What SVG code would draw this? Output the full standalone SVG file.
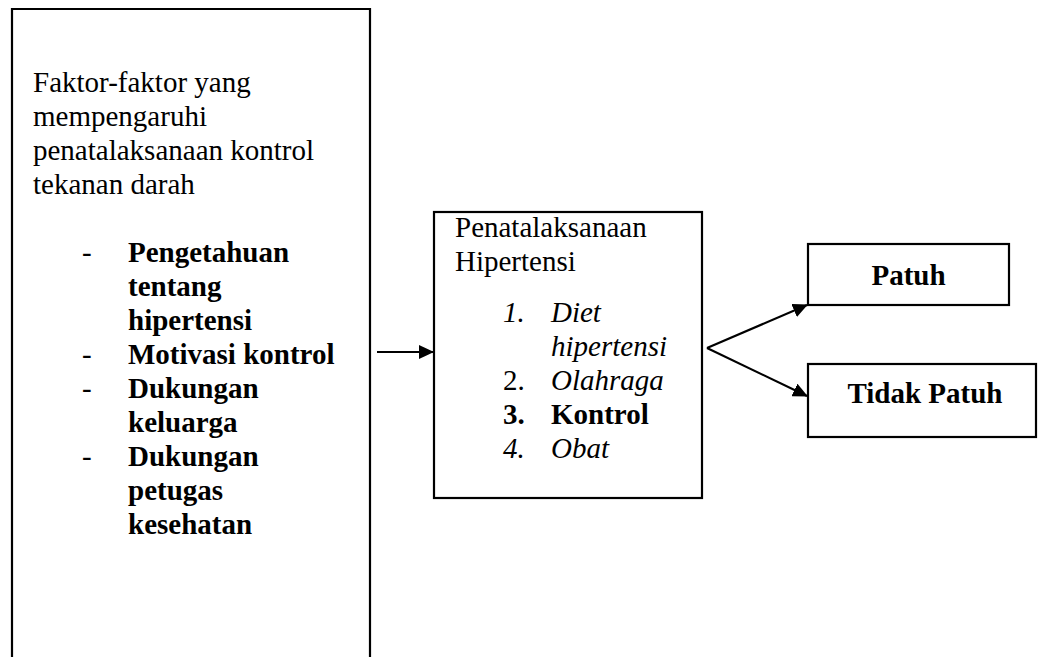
<svg xmlns="http://www.w3.org/2000/svg" width="1039" height="657" viewBox="0 0 1039 657">
<defs>
<style>
.box{fill:#fff;stroke:#000;stroke-width:2.2}
.t{font-family:'Liberation Serif',Tinos,'Times New Roman','DejaVu Serif',serif;font-size:29px;fill:#000}
.b{font-weight:bold}
.i{font-style:italic}
.ln{stroke:#000;stroke-width:2.2;fill:none}
</style>
<marker id="ah" markerWidth="15" markerHeight="14" refX="14" refY="7" orient="auto" markerUnits="userSpaceOnUse" viewBox="0 0 15 14">
<path d="M0,0 L15,7 L0,14 Z" fill="#000"/>
</marker>
</defs>
<rect width="1039" height="657" fill="#fff"/>
<g id="faktor" font-family="Liberation Serif, serif">
<path class="box" d="M12,670 L12,9 L370,9 L370,670"/>
<text class="t" x="33" y="92">Faktor-faktor yang</text>
<text class="t" x="33" y="126">mempengaruhi</text>
<text class="t" x="33" y="160">penatalaksanaan kontrol</text>
<text class="t" x="33" y="194">tekanan darah</text>
<text class="t" x="82" y="262">-</text>
<text class="t b" x="128" y="262">Pengetahuan</text>
<text class="t b" x="128" y="296">tentang</text>
<text class="t b" x="128" y="330">hipertensi</text>
<text class="t" x="82" y="364">-</text>
<text class="t b" x="128" y="364">Motivasi kontrol</text>
<text class="t" x="82" y="398">-</text>
<text class="t b" x="128" y="398">Dukungan</text>
<text class="t b" x="128" y="432">keluarga</text>
<text class="t" x="82" y="466">-</text>
<text class="t b" x="128" y="466">Dukungan</text>
<text class="t b" x="128" y="500">petugas</text>
<text class="t b" x="128" y="534">kesehatan</text>
</g>
<g id="penatalaksanaan">
<rect class="box" x="434" y="212" width="268" height="286"/>
<text class="t" x="455" y="237">Penatalaksanaan</text>
<text class="t" x="455" y="271">Hipertensi</text>
<text class="t i" x="503" y="322">1.</text>
<text class="t i" x="551" y="322">Diet</text>
<text class="t i" x="551" y="356">hipertensi</text>
<text class="t" x="503" y="390">2.</text>
<text class="t i" x="551" y="390">Olahraga</text>
<text class="t b" x="503" y="424">3.</text>
<text class="t b" x="551" y="424">Kontrol</text>
<text class="t i" x="503" y="458">4.</text>
<text class="t i" x="551" y="458">Obat</text>
</g>
<g id="patuh">
<rect class="box" x="808" y="244" width="201" height="61"/>
<text class="t b" x="908.5" y="285" text-anchor="middle">Patuh</text>
</g>
<g id="tidak-patuh">
<rect class="box" x="808" y="364" width="228" height="73"/>
<text class="t b" x="925" y="403" text-anchor="middle">Tidak Patuh</text>
</g>
<g id="connectors">
<line class="ln" x1="377" y1="352" x2="433" y2="352" marker-end="url(#ah)"/>
<line class="ln" x1="707" y1="348" x2="807" y2="305" marker-end="url(#ah)"/>
<line class="ln" x1="707" y1="348" x2="807" y2="396" marker-end="url(#ah)"/>
</g>
</svg>
